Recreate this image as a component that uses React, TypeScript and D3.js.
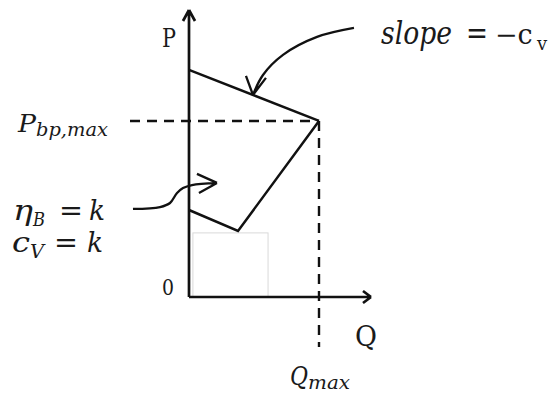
import React from 'react';
import * as d3 from 'd3';

// chart units: Q relative to Qmax, P relative to Pbp,max
const topLine = [
  { q: 0, p: 1.29 },
  { q: 1, p: 1 }
];
const lowerLine = [
  { q: 0, p: 0.494 },
  { q: 0.377, p: 0.375 },
  { q: 1, p: 1 }
];
const qMax = 1;
const pMax = 1;
const grayBox = { q0: 0.03, q1: 0.608, p0: 0, p1: 0.364 };

// annotation curves (same units)
const slopeArrow = [
  [1.269, 1.528],
  [0.985, 1.477],
  [0.723, 1.375],
  [0.569, 1.261],
  [0.492, 1.148]
];
const etaArrow = [
  [-0.431, 0.5],
  [-0.223, 0.511],
  [-0.146, 0.534],
  [-0.092, 0.591],
  [-0.046, 0.619],
  [0.023, 0.636],
  [0.215, 0.648]
];

const width = 550;
const height = 394;

const x = d3.scaleLinear().domain([0, 1.4]).range([189, 371]);
const y = d3.scaleLinear().domain([0, 1.63]).range([297, 10]);

const line = d3
  .line<{ q: number; p: number }>()
  .x(d => x(d.q))
  .y(d => y(d.p));

const curve = d3
  .line<number[]>()
  .x(d => x(d[0]))
  .y(d => y(d[1]))
  .curve(d3.curveCatmullRom);

const ink = '#111';
const serif = 'DejaVu Serif';

// little open arrow head made of two strokes
const head = (tx: number, ty: number, arms: number[][]) =>
  arms.map(a => `M${tx + a[0]},${ty + a[1]}L${tx},${ty}`).join('');

const fit = { lengthAdjust: 'spacingAndGlyphs' as const };

export default function App() {
  const tip1 = slopeArrow[slopeArrow.length - 1];
  const tip2 = etaArrow[etaArrow.length - 1];
  return (
    <svg
      width={width}
      height={height}
      style={{ position: 'absolute', left: 0, top: 0, background: '#fff' }}
    >
      <rect
        x={x(grayBox.q0)}
        y={y(grayBox.p1)}
        width={x(grayBox.q1) - x(grayBox.q0)}
        height={y(grayBox.p0) - y(grayBox.p1)}
        fill="none"
        stroke="#d9d9d9"
        strokeWidth={1}
      />
      {/* dashed guides */}
      <line
        x1={130}
        x2={x(qMax)}
        y1={y(pMax)}
        y2={y(pMax)}
        stroke={ink}
        strokeWidth={2.4}
        strokeDasharray="10,7"
      />
      <line
        x1={x(qMax)}
        x2={x(qMax)}
        y1={y(pMax)}
        y2={347}
        stroke={ink}
        strokeWidth={2.4}
        strokeDasharray="10,7"
      />
      {/* axes */}
      <path
        d={`M${x(0)},${y(0)}V${y(1.63)}` + head(x(0), y(1.63), [[-6, 11], [6, 11]])}
        fill="none"
        stroke={ink}
        strokeWidth={2.7}
      />
      <path
        d={`M${x(0)},${y(0)}H${x(1.4)}` + head(x(1.4), y(0), [[-8, -6], [-8, 6]])}
        fill="none"
        stroke={ink}
        strokeWidth={2.7}
      />
      <path d={line(topLine) || ''} fill="none" stroke={ink} strokeWidth={2.5} />
      <path d={line(lowerLine) || ''} fill="none" stroke={ink} strokeWidth={2.5} />
      {/* annotation arrows */}
      <path
        d={(curve(slopeArrow) || '') + head(x(tip1[0]), y(tip1[1]), [[-7, -19], [13, -17]])}
        fill="none"
        stroke={ink}
        strokeWidth={2.3}
      />
      <path
        d={(curve(etaArrow) || '') + head(x(tip2[0]), y(tip2[1]), [[-20, -9], [-18, 10]])}
        fill="none"
        stroke={ink}
        strokeWidth={2.3}
      />
      {/* labels */}
      <g fill="#1a1a1a" fontFamily={serif}>
        <text x={162} y={47} fontSize={26} textLength={14} {...fit}>P</text>
        <text x={162} y={295} fontSize={22} textLength={12} {...fit}>0</text>
        <text x={355} y={346} fontSize={27} textLength={22} {...fit}>Q</text>

        <text fontSize={31}>
          <tspan x={381} y={44} fontStyle="italic" textLength={71} {...fit}>slope</tspan>
          <tspan x={466} y={44} textLength={22} {...fit}>=</tspan>
        </text>
        <text x={495} y={44} fontSize={27}>−c</text>
        <text x={537} y={50} fontSize={18}>v</text>

        <text fontStyle="italic">
          <tspan x={18} y={132} fontSize={25} textLength={18} {...fit}>P</tspan>
          <tspan x={36} y={136} fontSize={18} textLength={72} {...fit}>bp,max</tspan>
        </text>

        <text fontSize={28}>
          <tspan x={13} y={220} fontStyle="italic" textLength={20} {...fit}>η</tspan>
          <tspan x={33} y={226} fontSize={19} fontStyle="italic" textLength={12} {...fit}>B</tspan>
          <tspan x={59} y={220} textLength={24} {...fit}>=</tspan>
          <tspan x={89} y={220} fontStyle="italic" textLength={16} {...fit}>k</tspan>
        </text>
        <text fontSize={28}>
          <tspan x={12} y={252} fontStyle="italic" textLength={18} {...fit}>c</tspan>
          <tspan x={30} y={258} fontSize={19} fontStyle="italic" textLength={14} {...fit}>V</tspan>
          <tspan x={54} y={252} textLength={24} {...fit}>=</tspan>
          <tspan x={87} y={252} fontStyle="italic" textLength={16} {...fit}>k</tspan>
        </text>

        <text fontStyle="italic">
          <tspan x={290} y={385} fontSize={26} textLength={18} {...fit}>Q</tspan>
          <tspan x={308} y={389} fontSize={18} textLength={42} {...fit}>max</tspan>
        </text>
      </g>
    </svg>
  );
}
